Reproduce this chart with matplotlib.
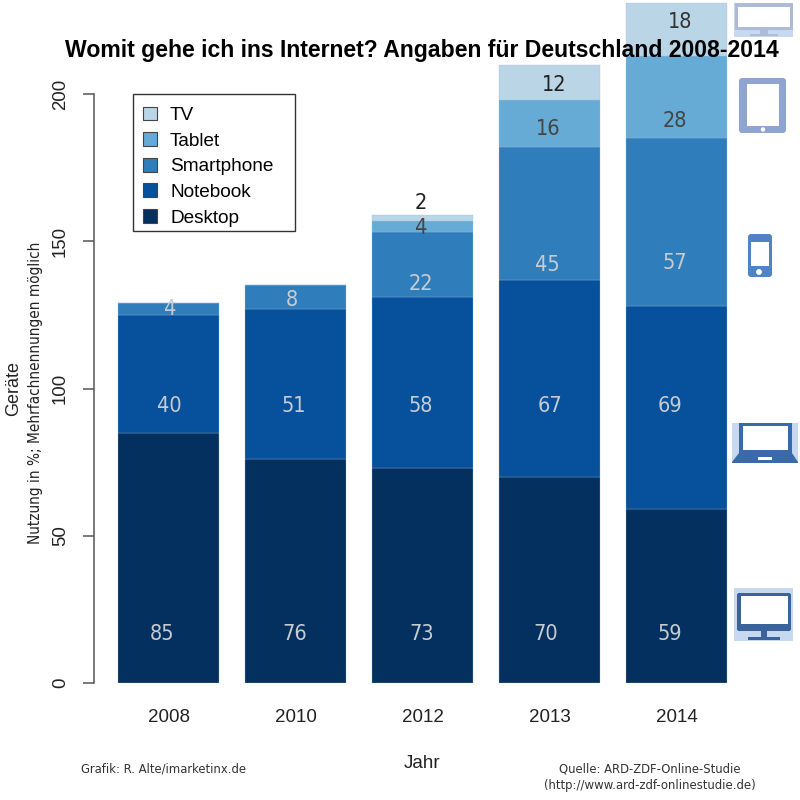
#!/usr/bin/env python3
import matplotlib
matplotlib.use('Agg')
import matplotlib.pyplot as plt
from matplotlib.patches import Rectangle, Polygon, Circle, FancyBboxPatch

years = ['2008', '2010', '2012', '2013', '2014']
desktop = [85, 76, 73, 70, 59]
notebook = [40, 51, 58, 67, 69]
smartphone = [4, 8, 22, 45, 57]
tablet = [0, 0, 4, 16, 28]
tv = [0, 0, 2, 12, 18]

series_names = ['Desktop', 'Notebook', 'Smartphone', 'Tablet', 'TV']
colors = ['#03305F', '#06509C', '#2F7EBB', '#66ABD5', '#BAD5E6']

# where the value labels sit (the original places them by hand, not centred in the segments)
label_y = {
    'Desktop': [16.5, 16.5, 16.5, 16.5, 16.5],
    'Notebook': [94, 94, 94, 94, 94],
    'Smartphone': [127, 130, 135.5, 142, 142.5],
    'Tablet': [None, None, 154.5, 188, 191],
    'TV': [None, None, 163, 203, 224.5],
}
# horizontal nudge of each label, in pixels
label_dx = {
    'Desktop': [-6.5, -1, -1, -4, -7],
    'Notebook': [1, -2, -2, 0, -7],
    'Smartphone': [1, -4, -2, -2, -2],
    'Tablet': [0, 0, -2, -2, -2],
    'TV': [0, 0, -2, 4, 3],
}
LIGHT = '#c8ccd0'
DARK = '#444444'
label_colors = {
    'Desktop': [LIGHT] * 5,
    'Notebook': [LIGHT] * 5,
    'Smartphone': [LIGHT] * 5,
    'Tablet': [DARK] * 5,
    'TV': ['#222222', '#222222', '#222222', '#222222', '#333333'],
}

plt.rcParams['font.family'] = ['Liberation Sans', 'DejaVu Sans']

fig = plt.figure(figsize=(8, 8), dpi=100)
ax = fig.add_axes([93.5 / 800, 117 / 800, (730 - 93.5) / 800, 683 / 800])

x = range(len(years))
all_values = [desktop, notebook, smartphone, tablet, tv]
bottom = [0] * len(years)
for name, values, color in zip(series_names, all_values, colors):
    ax.bar(x, values, width=0.795, bottom=bottom, color=color,
           edgecolor='#9fbfdc', linewidth=0.2, label=name)
    bottom = [b + v for b, v in zip(bottom, values)]
    for i, v in enumerate(values):
        if v > 0:
            ax.text(i + label_dx[name][i] / 127, label_y[name][i], str(v), ha='center', va='center',
                    fontsize=15.5, color=label_colors[name][i], family='DejaVu Sans',
                    stretch='condensed')

ax.set_xlim((93.5 - 168.75) / 127, (730 - 168.75) / 127)
ax.set_ylim(0, 683 / 2.945)

for side in ['top', 'right', 'bottom']:
    ax.spines[side].set_visible(False)
ax.spines['left'].set_bounds(0, 200)
ax.spines['left'].set_color('#555555')
ax.spines['left'].set_linewidth(1.1)
ax.set_yticks([0, 50, 100, 150, 200])
ax.tick_params(axis='y', length=8, width=1.1, color='#555555', pad=9.6, labelsize=13.4,
               labelcolor='#222222')
for lab in ax.get_yticklabels():
    lab.set_rotation(90)
    lab.set_va('center')
ax.set_xticks(list(x))
ax.set_xticklabels(years, fontsize=13.5, color='#222222')
ax.tick_params(axis='x', length=0, pad=19)

# legend frame is separate so the rows can sit a little low in it, as in the original
ax.add_patch(Rectangle((133 / 800, 1 - 231 / 800), 162 / 800, 137 / 800, transform=fig.transFigure,
                       facecolor='white', edgecolor='#333333', linewidth=1, zorder=9, clip_on=False))
handles, labels = ax.get_legend_handles_labels()
leg = ax.legend(handles[::-1], labels[::-1], loc='upper left', mode='expand',
                bbox_to_anchor=(133 / 800, 1 - 234 / 800, 162 / 800, 137 / 800),
                bbox_transform=fig.transFigure, frameon=False,
                fontsize=13.7, handlelength=0.75, handleheight=0.75, handletextpad=0.7,
                labelspacing=0.42, borderpad=0.5, borderaxespad=0)
for patch in leg.get_patches():
    patch.set_edgecolor('#444444')
    patch.set_linewidth(0.8)
leg.set_zorder(10)

fig.text(422 / 800, 1 - 50 / 800, 'Womit gehe ich ins Internet? Angaben für Deutschland 2008-2014',
         ha='center', va='center', fontsize=16.55, fontweight='bold', color='black')
fig.text(14 / 800, 1 - 388 / 800, 'Geräte', rotation=90, ha='center', va='center',
         fontsize=13, color='#222222')
fig.text(35.5 / 800, 1 - 393 / 800, 'Nutzung in %; Mehrfachnennungen möglich', rotation=90,
         ha='center', va='center', fontsize=11, family='DejaVu Sans', stretch='condensed',
         color='#222222')
fig.text(422 / 800, 1 - 763 / 800, 'Jahr', ha='center', va='center', fontsize=13.5, color='#222222')
fig.text(81 / 800, 1 - 769 / 800, 'Grafik: R. Alte/imarketinx.de', ha='left', va='center',
         fontsize=9.3, family='DejaVu Sans', stretch='condensed', color='#333333')
fig.text(650 / 800, 1 - 769 / 800, 'Quelle: ARD-ZDF-Online-Studie', ha='center', va='center',
         fontsize=9.3, family='DejaVu Sans', stretch='condensed', color='#333333')
fig.text(650 / 800, 1 - 785 / 800, '(http://www.ard-zdf-onlinestudie.de)', ha='center', va='center',
         fontsize=9.4, family='DejaVu Sans', stretch='condensed', color='#333333')

# device icons on the right, drawn in pixel coordinates
icons = fig.add_axes([0, 0, 1, 1], zorder=1)
icons.set_xlim(0, 800)
icons.set_ylim(800, 0)
icons.axis('off')


def box(x0, y0, x1, y1, color):
    icons.add_patch(Rectangle((x0, y0), x1 - x0, y1 - y0, facecolor=color, edgecolor='none'))


def rbox(x0, y0, x1, y1, color, r=2):
    icons.add_patch(FancyBboxPatch((x0 + r, y0 + r), x1 - x0 - 2 * r, y1 - y0 - 2 * r,
                                   boxstyle='round,pad=%d' % r, facecolor=color, edgecolor='none'))


ICON_BG = '#c6d9f1'
# tv
box(734, 3, 793, 37, ICON_BG)
box(735, 3, 793, 30, '#aebbd8')
box(738, 7, 790, 27, 'white')
box(760, 30, 768, 34, '#aebbd8')
box(750, 34, 778, 36, '#aebbd8')
# tablet
rbox(739, 78, 786, 133, '#8fa5d0', r=3)
box(747, 84, 779, 126, 'white')
icons.add_patch(Circle((763, 129.5), 1.5, color='white'))
# phone
rbox(748, 234, 772, 277, '#4f83c4', r=3)
box(751, 242, 769, 266, 'white')
icons.add_patch(Circle((759, 272), 2.2, color='white'))
# notebook
box(732, 423, 798, 463, ICON_BG)
box(739, 423, 792, 453, '#3a6ba8')
box(743, 426, 788, 450, 'white')
icons.add_patch(Polygon([(739, 453), (792, 453), (798, 462), (798, 463), (732, 463), (732, 462)],
                        closed=True, facecolor='#3a6ba8', edgecolor='none'))
box(758, 457, 772, 459.5, 'white')
# desktop
box(734, 588, 793, 641, ICON_BG)
rbox(737, 593, 791, 631, '#3a639c', r=2)
box(741, 596, 788, 624, 'white')
box(761, 631, 767, 637, '#3a639c')
box(748, 637, 780, 640, '#3a639c')

plt.savefig('out.png', dpi=100)
